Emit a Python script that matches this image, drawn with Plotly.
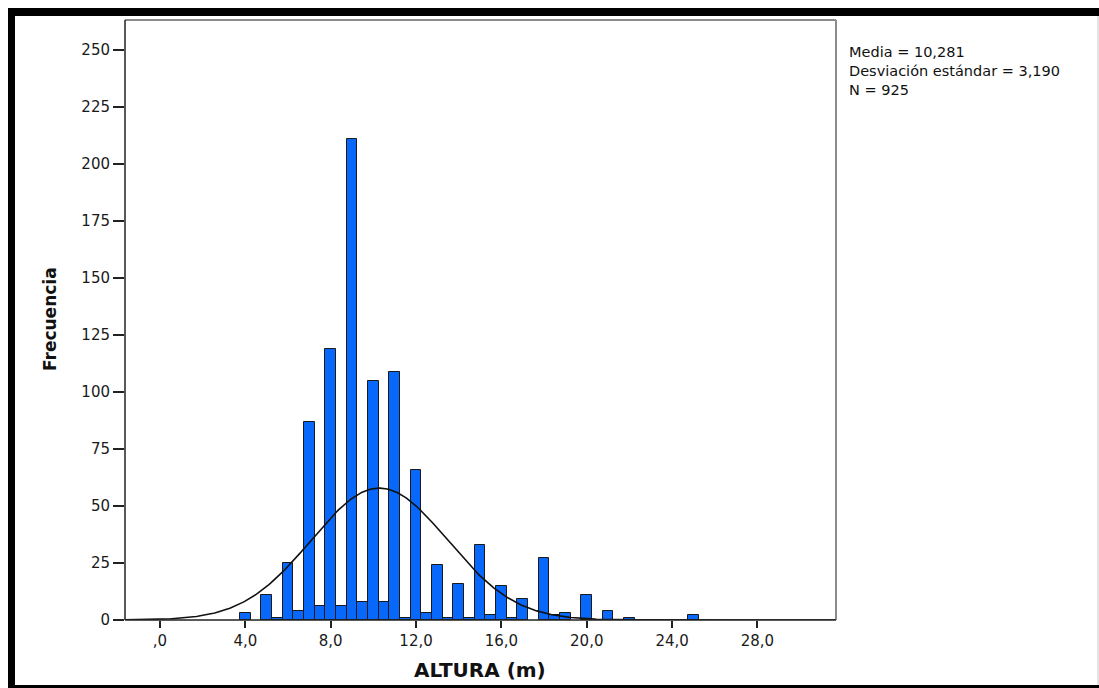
import numpy as np
import plotly.graph_objects as go

# ---- data ----
bin_centers = [4.0, 5.0, 5.5, 6.0, 6.5, 7.0, 7.5, 8.0, 8.5, 9.0, 9.5, 10.0, 10.5,
               11.0, 11.5, 12.0, 12.5, 13.0, 13.5, 14.0, 14.5, 15.0, 15.5, 16.0,
               16.5, 17.0, 18.0, 18.5, 19.0, 20.0, 21.0, 22.0, 25.0]
counts = [3, 11, 1, 25, 4, 87, 6, 119, 6, 211, 8, 105, 8,
          109, 1, 66, 3, 24, 1, 16, 1, 33, 2, 15,
          1, 9, 27, 2, 3, 11, 4, 1, 2]
bin_width = 0.5
mean_val = 10.281
sd_val = 3.190
n_val = 925

x_tickvals = [0, 4, 8, 12, 16, 20, 24, 28]
x_ticktext = [",0", "4,0", "8,0", "12,0", "16,0", "20,0", "24,0", "28,0"]
y_tickvals = [0, 25, 50, 75, 100, 125, 150, 175, 200, 225, 250]

stats_lines = ["Media = 10,281", "Desviación estándar = 3,190", "N = 925"]

# ---- layout geometry (pixels) ----
W, H = 1099, 688
L, R, T, B = 125, 836, 20, 620
x_range = [-1.64, 31.68]
y_range = [0, 263.2]


def px_x(p):
    return (p - L) / (R - L)


def px_y(p):
    return (B - p) / (B - T)


# normal curve from stated statistics
xs = np.linspace(x_range[0], x_range[1], 500)
ys = n_val * bin_width * np.exp(-0.5 * ((xs - mean_val) / sd_val) ** 2) / (sd_val * np.sqrt(2 * np.pi))

fig = go.Figure()
fig.add_trace(go.Bar(
    x=bin_centers, y=counts, width=bin_width,
    marker=dict(color="#0868FC", line=dict(color="#1a1a1a", width=1)),
    hoverinfo="x+y", showlegend=False,
))
fig.add_trace(go.Scatter(
    x=xs, y=ys, mode="lines", line=dict(color="#111111", width=1.6),
    hoverinfo="skip", showlegend=False,
))

tickfont = dict(family="DejaVu Sans", size=15, color="#1a1a1a")

fig.update_layout(
    width=W, height=H,
    margin=dict(l=L, r=W - R, t=T, b=H - B, pad=0),
    paper_bgcolor="white", plot_bgcolor="white",
    bargap=0,
    xaxis=dict(range=x_range, tickvals=x_tickvals, ticktext=x_ticktext,
               ticks="outside", ticklen=7, tickwidth=1.5, tickcolor="#222",
               showgrid=False, zeroline=False, showline=False, tickfont=tickfont),
    yaxis=dict(range=y_range, tickvals=y_tickvals,
               ticks="outside", ticklen=11, tickwidth=1.5, tickcolor="#222",
               showgrid=False, zeroline=False, showline=False, tickfont=tickfont),
)

shapes = []
# plot frame: gray top/right, dark left/bottom
shapes.append(dict(type="line", xref="paper", yref="paper", x0=0, x1=1, y0=1, y1=1,
                   line=dict(color="#8a8a8a", width=2)))
shapes.append(dict(type="line", xref="paper", yref="paper", x0=1, x1=1, y0=0, y1=1,
                   line=dict(color="#8a8a8a", width=2)))
shapes.append(dict(type="line", xref="paper", yref="paper", x0=0, x1=0, y0=0, y1=1,
                   line=dict(color="#222222", width=1.5)))
shapes.append(dict(type="line", xref="paper", yref="paper", x0=0, x1=1, y0=0, y1=0,
                   line=dict(color="#222222", width=1.5)))
# outer black frame of the image
shapes.append(dict(type="rect", xref="paper", yref="paper",
                   x0=px_x(8), x1=px_x(15), y0=px_y(688), y1=px_y(8),
                   fillcolor="black", line=dict(width=0)))
shapes.append(dict(type="rect", xref="paper", yref="paper",
                   x0=px_x(8), x1=px_x(1099), y0=px_y(16), y1=px_y(8),
                   fillcolor="black", line=dict(width=0)))
shapes.append(dict(type="rect", xref="paper", yref="paper",
                   x0=px_x(8), x1=px_x(1099), y0=px_y(688), y1=px_y(685),
                   fillcolor="black", line=dict(width=0)))
shapes.append(dict(type="line", xref="paper", yref="paper",
                   x0=px_x(1098), x1=px_x(1098), y0=px_y(685), y1=px_y(16),
                   line=dict(color="#c8c8c8", width=1)))
fig.update_layout(shapes=shapes)

annotations = []
annotations.append(dict(
    text="<br>".join(stats_lines), xref="paper", yref="paper", x=px_x(847), y=px_y(71),
    xanchor="left", yanchor="middle", align="left", showarrow=False,
    font=dict(family="DejaVu Sans", size=14.5, color="#111111"),
))
annotations.append(dict(
    text="<b>ALTURA (m)</b>", xref="paper", yref="paper", x=px_x(480), y=px_y(670),
    xanchor="center", yanchor="middle", showarrow=False,
    font=dict(family="DejaVu Sans", size=20, color="#111111"),
))
annotations.append(dict(
    text="<b>Frecuencia</b>", xref="paper", yref="paper", x=px_x(50), y=px_y(319),
    xanchor="center", yanchor="middle", showarrow=False, textangle=-90,
    font=dict(family="DejaVu Sans", size=17, color="#111111"),
))
fig.update_layout(annotations=annotations)

fig.write_html("out.html")
